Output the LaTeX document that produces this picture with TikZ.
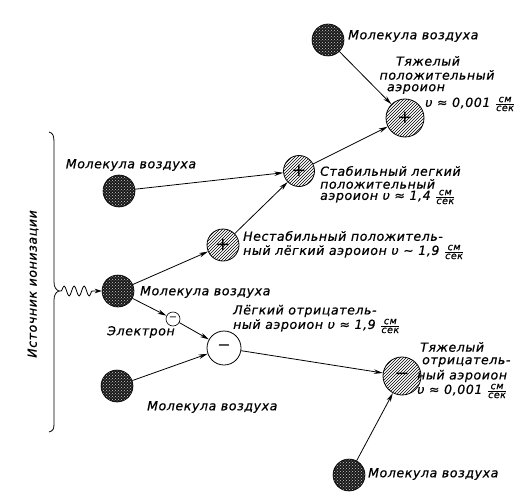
\documentclass[tikz,border=0pt]{standalone}
\usepackage{fontspec}
\setmainfont{DejaVu Sans}
\newfontfamily\lbl[LetterSpace=5,FakeBold=0.6]{DejaVu Sans}
\usetikzlibrary{patterns,arrows.meta,decorations.pathmorphing}
\newcommand\cmsec{$\frac{\hbox{\fontsize{9.5}{9.5}\selectfont\itshape см}}{\hbox{\fontsize{9.5}{9.5}\selectfont\itshape сек}}$}
\begin{document}
\begin{tikzpicture}[x=1pt,y=-1pt,
  mol/.style={circle, draw, line width=0.6pt, inner sep=0pt, minimum size=32pt,
    preaction={fill=black!90}, pattern=crosshatch dots, pattern color=white!80!black},
  ion/.style={circle, draw, line width=0.8pt, inner sep=0pt, preaction={fill=white},
    pattern=north east lines, font=\fontsize{18}{18}\selectfont},
  arr/.style={line width=0.8pt, -{Stealth[length=9pt,width=4.5pt]}},
  lab/.style={font=\lbl\itshape\fontsize{12.5}{13}\selectfont, inner sep=0pt},
]
\useasboundingbox (0,0) rectangle (519,500);
% particles
\node[mol] (m1) at (328,40) {};
\node[ion, minimum size=38pt] (hp) at (405,118) {+};
\node[mol] (m2) at (119,191) {};
\node[ion, minimum size=31pt] (sp) at (299,171) {+};
\node[ion, minimum size=32pt] (up) at (223,245) {+};
\node[mol] (m3) at (118,291) {};
\node[circle, draw, line width=0.6pt, fill=white, minimum size=14pt, inner sep=0pt,
  font=\fontsize{10}{10}\selectfont] (el) at (173,319) {−};
\node[circle, draw, line width=0.8pt, fill=white, minimum size=34pt, inner sep=0pt,
  font=\fontsize{16}{16}\selectfont] (ln) at (224,348) {−};
\node[mol] (m4) at (117,386) {};
\node[ion, minimum size=38pt] (hn) at (402,376) {−};
\node[mol] (m5) at (349,475) {};
% connectors
\draw[arr] (m1) -- (hp);
\draw[arr] (sp) -- (hp);
\draw[arr] (m2) -- (sp);
\draw[arr] (up) -- (sp);
\draw[arr] (m3) -- (up);
\draw[arr] (m3) -- (el);
\draw[arr] (el) -- (ln);
\draw[arr] (m4) -- (ln);
\draw[arr] (ln) -- (hn);
\draw[arr] (m5) -- (hn);
% brace and source
\coordinate (tip) at (59,291);
\draw[line width=0.8pt] (49,132) .. controls (53,133) and (54,136) .. (54,142) -- (54,282)
  .. controls (54,287) and (56,290) .. (tip)
  .. controls (56,292) and (54,295) .. (54,300) -- (54,424)
  .. controls (54,429) and (53,431) .. (49,432);
\draw[line width=0.8pt, decorate, decoration={snake, segment length=10pt, amplitude=5pt, pre length=2pt, post length=5pt},
  -{Stealth[length=7pt,width=4.5pt]}] (tip) -- (m3);
\node[lab, rotate=90] (src) at (33,284) {Источник ионизации};
% labels
\node[lab, anchor=west] (t1) at (348,36) {Молекула воздуха};
\node[lab] (hp1) at (428,61) {Тяжелый};
\node[lab] (hp2) at (437,75) {положительный};
\node[lab] (hp3) at (416,89) {аэроион};
\node[lab, anchor=west] (hp4) at (425,104) {υ ≈ 0,001 \cmsec};
\node[lab] (t2) at (131,165) {Молекула воздуха};
\node[lab, anchor=west] (sp1) at (320,171) {Стабильный легкий};
\node[lab, anchor=west] (sp2) at (320,184) {положительный};
\node[lab, anchor=west] (sp3) at (320,197) {аэроион υ ≈ 1,4 \cmsec};
\node[lab, anchor=west] (up1) at (243,236) {Нестабильный положитель-};
\node[lab, anchor=west] (up2) at (243,252) {ный лёгкий аэроион υ ∼ 1,9 \cmsec};
\node[lab, anchor=west] (t3) at (140,292) {Молекула воздуха};
\node[lab] (elt) at (141,332) {Электрон};
\node[lab, anchor=west] (ln1) at (233,311) {Лёгкий отрицатель-};
\node[lab, anchor=west] (ln2) at (233,326) {ный аэроион υ ≈ 1,9 \cmsec};
\node[lab, anchor=west] (t4) at (147,407) {Молекула воздуха};
\node[lab, anchor=west] (hn1) at (420,347) {Тяжелый};
\node[lab, anchor=west] (hn2) at (422,362) {отрицатель-};
\node[lab, anchor=west] (hn3) at (417,376) {ный аэроион};
\node[lab, anchor=west] (hn4) at (417,391) {υ ≈ 0,001 \cmsec};
\node[lab, anchor=west] (t5) at (368,474) {Молекула воздуха};
\end{tikzpicture}
\end{document}
